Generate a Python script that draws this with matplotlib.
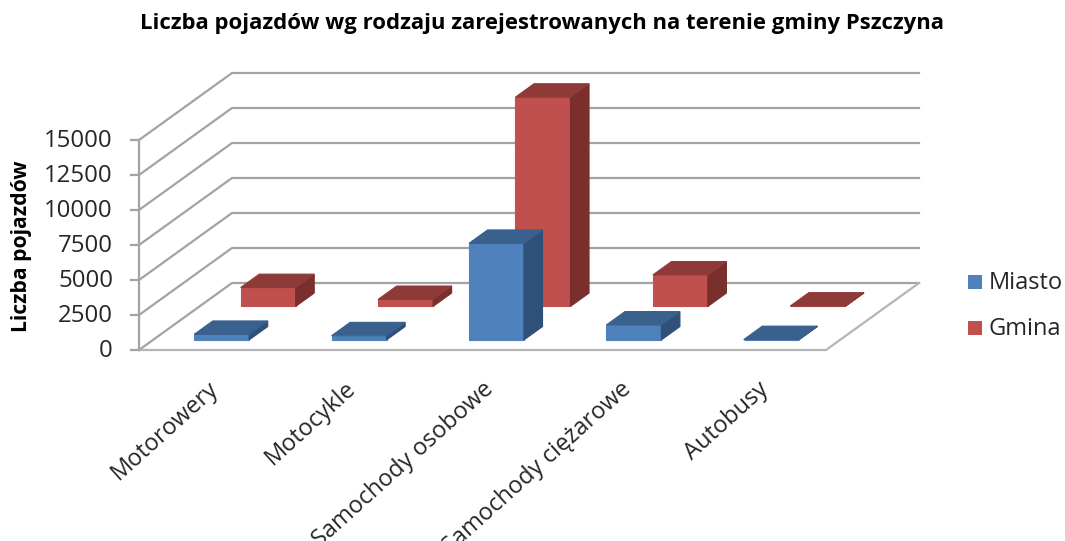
import matplotlib
matplotlib.use('Agg')
import matplotlib.pyplot as plt
from matplotlib.patches import Polygon, Rectangle

categories = ['Motorowery', 'Motocykle', 'Samochody osobowe', 'Samochody ciężarowe', 'Autobusy']
miasto = [400, 300, 6900, 1070, 30]
gmina = [1350, 500, 14950, 2250, 30]
y_ticks = [0, 2500, 5000, 7500, 10000, 12500, 15000]

plt.rcParams['font.family'] = ['Open Sans', 'DejaVu Sans']

# pixel geometry of the oblique 3D box
X0, Y0 = 139, 350
FLOOR_W = 687
DEPTH_X, DEPTH_Y = 93, -67
PX_PER_UNIT = 210 / 15000
BAR_FRAC = 0.4
BAR_DEPTH = 0.2
GRID = '#a3a3a3'
TEXT = '#262626'


def project(cat, depth, value):
    # cat in category units, depth 0..1 front to back
    x = X0 + cat / len(categories) * FLOOR_W + depth * DEPTH_X
    y = Y0 + depth * DEPTH_Y - value * PX_PER_UNIT
    return x, y


def draw_bar(ax, i, row, value, front, top, side):
    c0 = i + 0.5 - BAR_FRAC / 2
    c1 = i + 0.5 + BAR_FRAC / 2
    d0 = row - BAR_DEPTH / 2
    d1 = row + BAR_DEPTH / 2
    faces = [
        ([(c0, d0, 0), (c1, d0, 0), (c1, d0, value), (c0, d0, value)], front),
        ([(c1, d0, 0), (c1, d1, 0), (c1, d1, value), (c1, d0, value)], side),
        ([(c0, d0, value), (c1, d0, value), (c1, d1, value), (c0, d1, value)], top),
    ]
    for pts, col in faces:
        ax.add_patch(Polygon([project(*p) for p in pts], closed=True, facecolor=col,
                             edgecolor=col, lw=0.8, zorder=3))


fig = plt.figure(figsize=(10.65, 5.41), dpi=100)
ax = fig.add_axes([0, 0, 1, 1])
ax.set_xlim(0, 1065)
ax.set_ylim(541, 0)
ax.axis('off')

n = len(categories)
for v in y_ticks:
    a = project(0, 0, v)
    b = project(0, 1, v)
    c = project(n, 1, v)
    ax.plot([a[0], b[0], c[0]], [a[1], b[1], c[1]], color=GRID, lw=1.6, zorder=1)
    ax.plot([a[0] - 8, a[0]], [a[1], a[1]], color=GRID, lw=1.6, zorder=1)
    ax.text(a[0] - 26, a[1] + 1, str(v), ha='right', va='center', fontsize=17.3, color=TEXT)

# floor and left axis
p0 = project(0, 0, 0)
p1 = project(n, 0, 0)
p2 = project(n, 1, 0)
ax.plot([p0[0], p1[0], p2[0]], [p0[1], p1[1], p2[1]], color='#b5b5b5', lw=1.6, zorder=1)
top_tick = project(0, 0, y_ticks[-1])
ax.plot([p0[0], top_tick[0]], [p0[1], top_tick[1]], color=GRID, lw=1.6, zorder=1)

# back row first so the front row overlaps it
for i, v in enumerate(gmina):
    draw_bar(ax, i, 0.75, v, '#c0504d', '#8e3a38', '#7a2f2d')
for i, v in enumerate(miasto):
    draw_bar(ax, i, 0.25, v, '#4f81bd', '#3a608e', '#2f5079')

# long labels run off the bottom edge, same as the original chart
for i, name in enumerate(categories):
    x, y = project(i + 0.5, 0, 0)
    ax.text(x + 0, y + 27, name, rotation=42, rotation_mode='anchor', ha='right', va='top',
            fontsize=17, color=TEXT, clip_on=True)

ax.text(542, 24, 'Liczba pojazdów wg rodzaju zarejestrowanych na terenie gminy Pszczyna',
        ha='center', va='center', fontsize=15.9, fontweight='bold', color='black')
ax.text(22, 246, 'Liczba pojazdów', rotation=90, ha='center', va='center',
        fontsize=15.2, fontweight='bold', color='black')

# legend
for y, name, col in [(282, 'Miasto', '#4f81bd'), (328, 'Gmina', '#c0504d')]:
    ax.add_patch(Rectangle((968, y - 7), 14, 14, facecolor=col, edgecolor='none'))
    ax.text(989, y + 1, name, ha='left', va='center', fontsize=17, color=TEXT)

plt.savefig('out.png', dpi=100)
plt.close()
